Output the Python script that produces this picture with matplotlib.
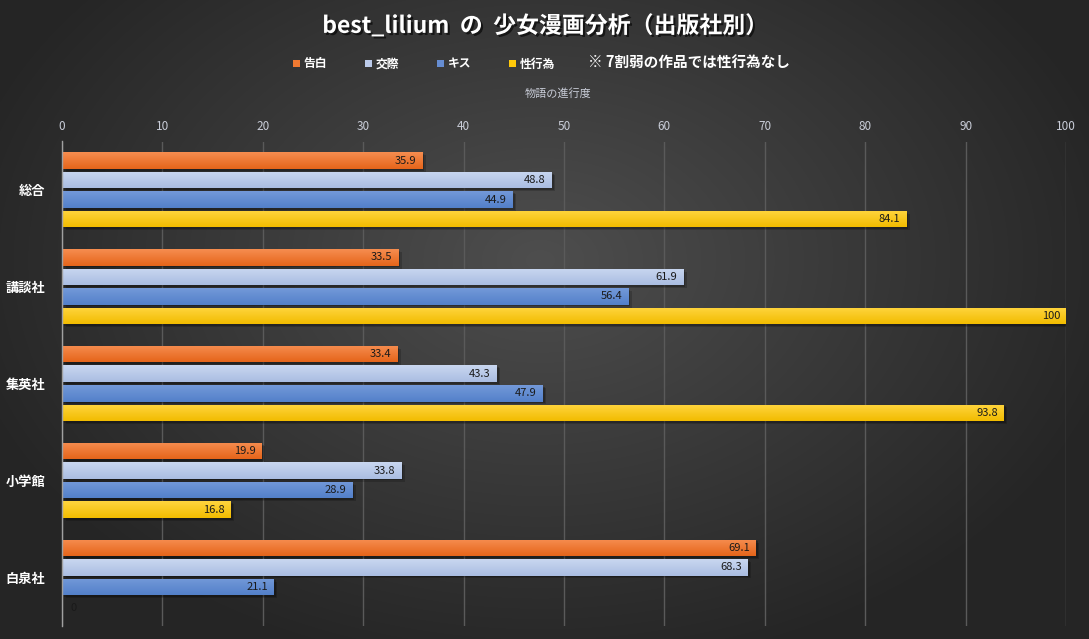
import numpy as np
import matplotlib
matplotlib.use("Agg")
import matplotlib.pyplot as plt
from matplotlib.patches import Patch
from matplotlib.colors import LinearSegmentedColormap
import matplotlib.patheffects as pe

plt.rcParams['font.family'] = ['Noto Sans CJK JP', 'DejaVu Sans']

categories = ['総合', '講談社', '集英社', '小学館', '白泉社']
series_names = ['告白', '交際', 'キス', '性行為']
kokuhaku = [35.9, 33.5, 33.4, 19.9, 69.1]
kousai = [48.8, 61.9, 43.3, 33.8, 68.3]
kiss = [44.9, 56.4, 47.9, 28.9, 21.1]
seikoui = [84.1, 100, 93.8, 16.8, 0]
series_values = [kokuhaku, kousai, kiss, seikoui]
x_ticks = [0, 10, 20, 30, 40, 50, 60, 70, 80, 90, 100]

title = 'best_lilium  の  少女漫画分析（出版社別）'
note = '※ 7割弱の作品では性行為なし'
xlabel = '物語の進行度'

colors_top = ['#F68D50', '#C9D7F0', '#7399D9', '#FFD53F']
colors_bot = ['#E5651A', '#AABDE2', '#5380C9', '#F2BC00']
colors_mid = ['#F07A32', '#BCCBEA', '#668DD2', '#FFC90A']

W, H = 1089, 639
fig = plt.figure(figsize=(W / 100, H / 100), dpi=100)

# background radial gradient
bg = fig.add_axes([0, 0, 1, 1], zorder=-10)
yy, xx = np.mgrid[0:H, 0:W]
r = np.sqrt(((xx - 540) / 600.0) ** 2 + ((yy - 260) / 420.0) ** 2)
r = np.clip(r, 0, 1)
c_in = np.array([0x4e, 0x4e, 0x4e]) / 255
c_out = np.array([0x25, 0x25, 0x25]) / 255
img = c_in[None, None, :] * (1 - r[..., None]) + c_out[None, None, :] * r[..., None]
bg.imshow(img, aspect='auto', extent=[0, 1, 0, 1])
bg.set_axis_off()

ax = fig.add_axes([62 / W, 1 - 625.5 / H, 1004 / W, (625.5 - 141.5) / H])
ax.set_facecolor('none')
ax.set_xlim(0, 100)
ax.set_ylim(len(categories) - 0.5, -0.5)

offsets = [-0.302, -0.101, 0.101, 0.302]
bh = 0.17
ypos = np.arange(len(categories))

# soft shadows
for si, vals in enumerate(series_values):
    for dx, dy, a in [(0.35, 0.03, 0.18), (0.2, 0.018, 0.22)]:
        ax.barh(ypos + offsets[si] + dy, vals, height=bh, left=dx,
                color='black', alpha=a, zorder=2, linewidth=0)

grad = np.linspace(0, 1, 64).reshape(-1, 1)
handles = []
for si, vals in enumerate(series_values):
    cont = ax.barh(ypos + offsets[si], vals, height=bh, color=colors_mid[si],
                   zorder=3, linewidth=0)
    cmap = LinearSegmentedColormap.from_list('g%d' % si, [colors_top[si], colors_bot[si]])
    for rect, v in zip(cont.patches, vals):
        if v <= 0:
            continue
        y0 = rect.get_y()
        im = ax.imshow(grad, cmap=cmap, aspect='auto', zorder=4,
                       extent=[0, v, y0 + bh, y0], interpolation='bilinear')
        im.set_clip_path(rect)
    for yc, v in zip(ypos + offsets[si], vals):
        if v > 0:
            ax.text(v - 0.6, yc, f'{v:g}', ha='right', va='center', fontsize=8,
                    color='#1a1a1a', zorder=6)
        else:
            ax.text(0.8, yc + 0.02, f'{v:g}', ha='left', va='center', fontsize=8,
                    color='#1a1a1a', zorder=6)
    handles.append(Patch(facecolor=colors_mid[si], edgecolor='none', label=series_names[si]))

ax.set_ylim(len(categories) - 0.5, -0.5)
ax.set_xlim(0, 100)

ax.xaxis.tick_top()
ax.set_xticks(x_ticks)
ax.set_xticklabels([str(t) for t in x_ticks], fontsize=8.5, color='#C9CDD8')
ax.tick_params(axis='x', length=0, pad=6)
ax.set_yticks(ypos)
ax.set_yticklabels(categories, fontsize=9.5, color='white', fontweight='bold')
ax.tick_params(axis='y', length=0, pad=12)
ax.grid(axis='x', color='#5a5a5a', linewidth=1, zorder=0)
ax.set_axisbelow(True)
for s in ['top', 'right', 'bottom']:
    ax.spines[s].set_visible(False)
ax.spines['left'].set_color('#A0A0A0')
ax.spines['left'].set_linewidth(1)
ax.spines['left'].set_zorder(5)

fig.text(558 / W, 1 - 93 / H, xlabel, ha='center', va='center', fontsize=8, color='#C9CDD8')

fig.text(545 / W, 1 - 26 / H, title, ha='center', va='center', fontsize=16.5,
         fontweight='bold', color='white',
         path_effects=[pe.withSimplePatchShadow(offset=(1.5, -1.5), shadow_rgbFace='black', alpha=0.6)])

leg = fig.legend(handles=handles, loc='center', bbox_to_anchor=(424 / W, 1 - 64 / H),
                 ncol=4, frameon=False, fontsize=8.5, handlelength=0.6, handleheight=0.6,
                 handletextpad=0.3, columnspacing=3.2, labelcolor='white')
for t in leg.get_texts():
    t.set_fontweight('bold')

fig.text(588 / W, 1 - 62 / H, note, ha='left', va='center', fontsize=10.5,
         fontweight='bold', color='white')

fig.savefig('out.png', dpi=100)
